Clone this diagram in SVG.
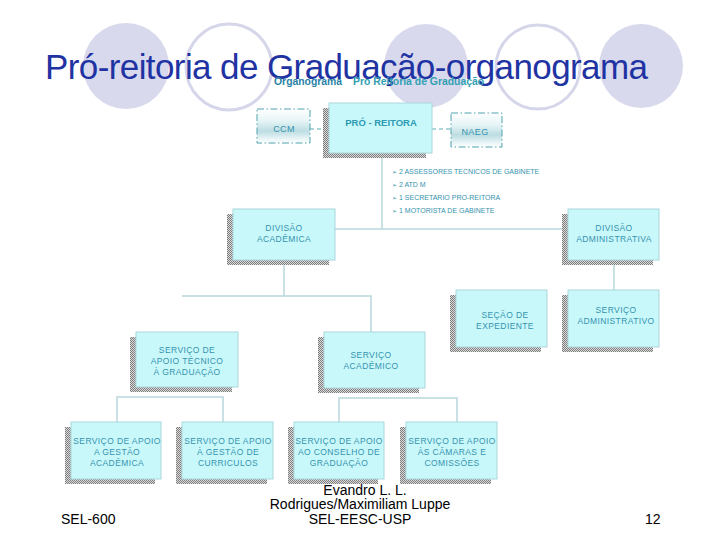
<svg xmlns="http://www.w3.org/2000/svg" width="720" height="540" viewBox="0 0 720 540">
<defs>
<pattern id="chk" width="2" height="2" patternUnits="userSpaceOnUse">
<rect width="2" height="2" fill="#dcdcdc"/>
<rect width="1" height="1" fill="#7c7c7c"/>
<rect x="1" y="1" width="1" height="1" fill="#7c7c7c"/>
</pattern>
<linearGradient id="grad" x1="0" y1="0" x2="0" y2="1">
<stop offset="0" stop-color="#ffffff"/>
<stop offset="0.35" stop-color="#e6f4f6"/>
<stop offset="0.65" stop-color="#bcdde2"/>
<stop offset="0.85" stop-color="#e4f2f4"/>
<stop offset="1" stop-color="#ffffff"/>
</linearGradient>
<style>
.bg{fill:#d9d9ed}
.ring{fill:none;stroke:#d6d6ea;stroke-width:3}
.title{font-family:"Liberation Sans",Arial,sans-serif;font-size:35px;fill:#1f33a3}
.sub{font-family:"Liberation Sans",Arial,sans-serif;font-size:10.4px;font-weight:bold}
.box{fill:#c9f8fb;stroke:#a9d6dc;stroke-width:1}
.shadow{fill:url(#chk)}
.dbox{fill:url(#grad);stroke:#4fa3ad;stroke-width:1;stroke-dasharray:7,2.5,1.5,2.5}
.t{font-family:"Liberation Sans",Arial,sans-serif;font-size:8.5px;letter-spacing:0.4px;fill:#3593ae;text-anchor:middle}
.tb{font-family:"Liberation Sans",Arial,sans-serif;font-size:9.5px;font-weight:bold;fill:#2c9ab2;text-anchor:middle}
.bl{font-family:"Liberation Sans",Arial,sans-serif;font-size:7px;fill:#3593ae}
.bu{font-family:"DejaVu Sans",sans-serif;font-size:6px}
.ln{fill:none;stroke:#b8d7dc;stroke-width:1.5}
.dl{fill:none;stroke:#5aaab5;stroke-width:1;stroke-dasharray:4,3}
.ft{font-family:"Liberation Sans",Arial,sans-serif;font-size:14px;fill:#000000}
</style>
</defs>
<rect width="720" height="540" fill="#ffffff"/>
<g id="background">
<circle class="bg" cx="126" cy="66" r="43"/>
<circle class="ring" cx="229" cy="67" r="43"/>
<circle class="bg" cx="426" cy="66" r="42"/>
<circle class="ring" cx="538" cy="67" r="42"/>
<circle class="bg" cx="641" cy="66" r="42"/>
</g>
<text class="title" x="45" y="79" textLength="603">Pró-reitoria de Graduação-organograma</text>
<text class="sub" x="274" y="85" fill="#2a82a6">Organograma</text>
<text class="sub" x="353" y="85" fill="#32a0b2">Pro Reitoria de Graduação</text>

<g id="connectors">
<line class="dl" x1="310" y1="129" x2="329" y2="129"/>
<line class="dl" x1="432" y1="129" x2="451" y2="129"/>
<polyline class="ln" points="382,158 382,229"/>
<line class="ln" x1="335" y1="229" x2="568" y2="229"/>
<line class="ln" x1="284" y1="264" x2="284" y2="296"/>
<polyline class="ln" points="182,296 371,296 371,332"/>
<line class="ln" x1="614" y1="264" x2="614" y2="290"/>
<polyline class="ln" points="117,422 117,397 223,397 223,422"/>
<polyline class="ln" points="339,422 339,398 457,398 457,422"/>
</g>

<g id="ccm">
<rect class="dbox" x="257" y="109" width="53" height="34"/>
<text class="t" x="284" y="132" style="font-size:9px">CCM</text>
</g>
<g id="pro-reitora">
<rect class="shadow" x="323" y="108" width="103" height="50"/>
<rect class="box" x="329" y="103" width="103" height="50"/>
<text class="tb" x="381" y="126">PRÓ - REITORA</text>
</g>
<g id="naeg">
<rect class="dbox" x="451" y="113" width="51" height="34"/>
<text class="t" x="475" y="135" style="font-size:9px">NAEG</text>
</g>
<g id="gabinete">
<text class="bl" x="392" y="174"><tspan class="bu">➢</tspan> 2 ASSESSORES TECNICOS DE GABINETE</text>
<text class="bl" x="392" y="187"><tspan class="bu">➢</tspan> 2 ATD M</text>
<text class="bl" x="392" y="200"><tspan class="bu">➢</tspan> 1 SECRETARIO PRO-REITORA</text>
<text class="bl" x="392" y="213"><tspan class="bu">➢</tspan> 1 MOTORISTA DE GABINETE</text>
</g>

<g id="divisao-academica">
<rect class="shadow" x="227" y="214" width="102" height="51"/>
<rect class="box" x="233" y="209" width="102" height="51"/>
<text class="t" x="284" y="231">DIVISÃO</text>
<text class="t" x="284" y="242">ACADÊMICA</text>
</g>
<g id="divisao-administrativa">
<rect class="shadow" x="562" y="214" width="91" height="51"/>
<rect class="box" x="568" y="209" width="91" height="51"/>
<text class="t" x="614" y="231">DIVISÃO</text>
<text class="t" x="614" y="242">ADMINISTRATIVA</text>
</g>
<g id="secao-expediente">
<rect class="shadow" x="450" y="295" width="91" height="57"/>
<rect class="box" x="456" y="290" width="91" height="57"/>
<text class="t" x="505" y="318">SEÇÃO DE</text>
<text class="t" x="505" y="329">EXPEDIENTE</text>
</g>
<g id="servico-administrativo">
<rect class="shadow" x="562" y="295" width="91" height="57"/>
<rect class="box" x="568" y="290" width="91" height="57"/>
<text class="t" x="616" y="313">SERVIÇO</text>
<text class="t" x="616" y="324">ADMINISTRATIVO</text>
</g>
<g id="servico-apoio-tecnico">
<rect class="shadow" x="130" y="337" width="102" height="55"/>
<rect class="box" x="136" y="332" width="102" height="55"/>
<text class="t" x="187" y="353">SERVIÇO DE</text>
<text class="t" x="187" y="364">APOIO TÉCNICO</text>
<text class="t" x="187" y="375">À GRADUAÇÃO</text>
</g>
<g id="servico-academico">
<rect class="shadow" x="318" y="337" width="101" height="56"/>
<rect class="box" x="324" y="332" width="101" height="56"/>
<text class="t" x="371" y="358">SERVIÇO</text>
<text class="t" x="371" y="369">ACADÊMICO</text>
</g>
<g id="apoio-gestao-academica">
<rect class="shadow" x="65" y="427" width="90" height="57"/>
<rect class="box" x="71" y="422" width="90" height="57"/>
<text class="t" x="117" y="444">SERVIÇO DE APOIO</text>
<text class="t" x="117" y="455">A GESTÃO</text>
<text class="t" x="117" y="466">ACADÊMICA</text>
</g>
<g id="apoio-gestao-curriculos">
<rect class="shadow" x="176" y="427" width="91" height="57"/>
<rect class="box" x="182" y="422" width="91" height="57"/>
<text class="t" x="228" y="444">SERVIÇO DE APOIO</text>
<text class="t" x="228" y="455">À GESTÃO DE</text>
<text class="t" x="228" y="466">CURRICULOS</text>
</g>
<g id="apoio-conselho">
<rect class="shadow" x="288" y="427" width="90" height="57"/>
<rect class="box" x="294" y="422" width="90" height="57"/>
<text class="t" x="339" y="444">SERVIÇO DE APOIO</text>
<text class="t" x="339" y="455">AO CONSELHO DE</text>
<text class="t" x="339" y="466">GRADUAÇÃO</text>
</g>
<g id="apoio-camaras">
<rect class="shadow" x="400" y="427" width="91" height="57"/>
<rect class="box" x="406" y="422" width="91" height="57"/>
<text class="t" x="452" y="444">SERVIÇO DE APOIO</text>
<text class="t" x="452" y="455">ÀS CÂMARAS E</text>
<text class="t" x="452" y="466">COMISSÕES</text>
</g>

<g id="footer">
<text class="ft" x="365" y="495" text-anchor="middle">Evandro L. L.</text>
<text class="ft" x="360" y="509" text-anchor="middle">Rodrigues/Maximiliam Luppe</text>
<text class="ft" x="360" y="524" text-anchor="middle">SEL-EESC-USP</text>
<text class="ft" x="61" y="524">SEL-600</text>
<text class="ft" x="645" y="524">12</text>
</g>
</svg>
